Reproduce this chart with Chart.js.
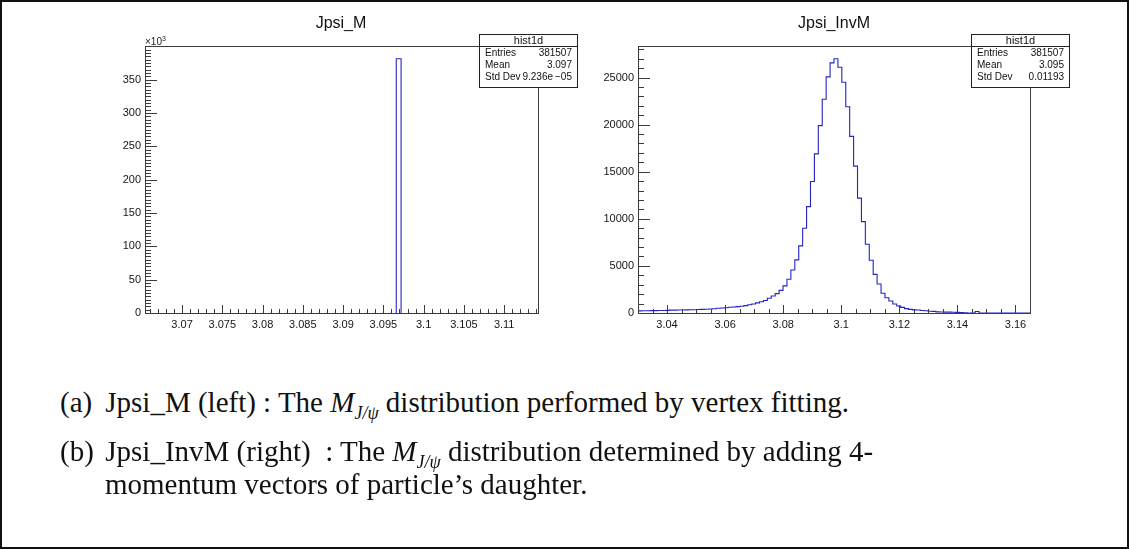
<!DOCTYPE html>
<html>
<head>
<meta charset="utf-8">
<script src="https://cdn.jsdelivr.net/npm/chart.js@4/dist/chart.umd.min.js"></script>
<style>
  html, body { margin: 0; padding: 0; background: #fff; }
  #page { position: relative; width: 1129px; height: 549px; overflow: hidden; background: #fff; }
  #border { position: absolute; left: 0; top: 0; width: 1129px; height: 549px; box-sizing: border-box; border: 2px solid #111; }
  canvas { position: absolute; top: 0; }
  .title { position: absolute; top: 14px; font: 16px "Liberation Sans", Arial, sans-serif; color: #111; transform: translateX(-50%); white-space: nowrap; }
  .exp { position: absolute; left: 145px; top: 35px; font: 10px "Liberation Sans", Arial, sans-serif; color: #222; }
  .exp sup { font-size: 7px; vertical-align: 4px; }
  .stats { position: absolute; top: 34px; width: 99px; height: 54px; box-sizing: border-box; border: 1px solid #222; background: #fff; font: 10px "Liberation Sans", Arial, sans-serif; color: #111; z-index: 2; }
  .stats .hd { height: 10px; line-height: 10px; text-align: center; font-size: 11px; border-bottom: 1px solid #222; padding-bottom: 1px; }
  .stats .row { display: flex; justify-content: space-between; padding: 0 5px 0 5px; height: 12px; line-height: 12px; }
  .cap { position: absolute; left: 60px; font: 29px "Liberation Serif", "Times New Roman", serif; color: #111; white-space: nowrap; line-height: 33px; }
  .cap .lbl { display: inline-block; width: 38px; }
  .cap sub { font-size: 18px; vertical-align: -7px; }
</style>
</head>
<body>
<div id="page">
  <canvas id="massChart" width="470" height="340" style="left:90px"></canvas>
  <canvas id="invChart" width="470" height="340" style="left:580px"></canvas>

  <div class="title" style="left:341px">Jpsi_M</div>
  <div class="title" style="left:834px">Jpsi_InvM</div>
  <div class="exp">×10<sup>3</sup></div>

  <div class="stats" style="left:479px">
    <div class="hd">hist1d</div>
    <div class="row"><span>Entries</span><span>381507</span></div>
    <div class="row"><span>Mean</span><span>3.097</span></div>
    <div class="row"><span>Std Dev</span><span>9.236e&thinsp;−05</span></div>
  </div>
  <div class="stats" style="left:971px">
    <div class="hd">hist1d</div>
    <div class="row"><span>Entries</span><span>381507</span></div>
    <div class="row"><span>Mean</span><span>3.095</span></div>
    <div class="row"><span>Std Dev</span><span>0.01193</span></div>
  </div>

  <div class="cap" style="top:386px"><span class="lbl">(a)</span> Jpsi_M (left) : The <i>M</i><sub><i>J/ψ</i></sub> distribution performed by vertex fitting.</div>
  <div class="cap" style="top:435px"><span class="lbl">(b)</span> Jpsi_InvM (right)&nbsp; : The <i>M</i><sub><i>J/ψ</i></sub> distribution determined by adding 4-</div>
  <div class="cap" style="top:468px; left:105px">momentum vectors of particle’s daughter.</div>

  <div id="border"></div>
</div>

<script>
// Jpsi_M: vertex-fitted mass, everything lands in one bin
const mRange = [3.0654, 3.1142];
const mEdges = [3.0966, 3.0972];
const mCounts = [381507];
const mYMax = 400583;
const mXTicks = [3.07, 3.075, 3.08, 3.085, 3.09, 3.095, 3.1, 3.105, 3.11];
const mXLabels = ['3.07', '3.075', '3.08', '3.085', '3.09', '3.095', '3.1', '3.105', '3.11'];
const mYTicks = [0, 50000, 100000, 150000, 200000, 250000, 300000, 350000];
const mYLabels = ['0', '50', '100', '150', '200', '250', '300', '350'];

// Jpsi_InvM: invariant mass from the daughters' 4-momenta, 100 bins
const invRange = [3.03, 3.165];
const invBinWidth = 0.00135;
const invCounts = [
  230, 240, 245, 250, 255, 262, 270, 282, 300, 308,
  315, 322, 332, 342, 352, 372, 388, 400, 422, 458,
  498, 530, 562, 610, 642, 680, 722, 778, 880, 962,
  1080, 1200, 1330, 1560, 1800, 2060, 2400, 2880, 3590, 4570,
  5640, 7130, 9000, 11300, 13970, 16900, 19900, 22700, 25070, 26560,
  27000, 26100, 24500, 21900, 18750, 15600, 12200, 9700, 7300, 5600,
  4100, 3080, 2100, 1620, 1270, 960, 740, 600, 460, 390,
  335, 315, 262, 245, 185, 175, 120, 108, 96, 88,
  72, 64, 45, 30, 0, 0, 160, 0, 0, 0,
  0, 0, 0, 0, 0, 0, 0, 0, 0, 0
];
const invYMax = 28350;
const invXTicks = [3.04, 3.06, 3.08, 3.1, 3.12, 3.14, 3.16];
const invXLabels = ['3.04', '3.06', '3.08', '3.1', '3.12', '3.14', '3.16'];
const invYTicks = [0, 5000, 10000, 15000, 20000, 25000];
const invYLabels = ['0', '5000', '10000', '15000', '20000', '25000'];

const lineBlue = '#2424c4';
const axisGrey = '#3c3c3c';

Chart.defaults.font.family = '"Liberation Sans", Arial, sans-serif';
Chart.defaults.font.size = 11;
Chart.defaults.color = '#151515';

// histogram outline as a stepped line: up at the first edge, down at the last
function stepPoints(edges, counts) {
  const pts = [{ x: edges[0], y: 0 }];
  counts.forEach((c, i) => pts.push({ x: edges[i], y: c }));
  pts.push({ x: edges[edges.length - 1], y: 0 });
  return pts;
}

function minorTicks(lo, hi, step) {
  const out = [];
  for (let v = Math.ceil(lo / step - 1e-6) * step; v <= hi + 1e-9; v += step) out.push(v);
  return out;
}

// ROOT style frame with ticks pointing inwards
const rootFrame = {
  id: 'rootFrame',
  afterDatasetsDraw(chart, args, opts) {
    const { ctx, chartArea: a, scales: { x, y } } = chart;
    ctx.save();
    ctx.strokeStyle = axisGrey;
    ctx.lineWidth = 1;
    ctx.beginPath();
    const xLen = opts.xLen, yLen = opts.yLen;
    opts.xMinor.forEach(v => {
      const px = Math.round(x.getPixelForValue(v)) + 0.5;
      ctx.moveTo(px, a.bottom); ctx.lineTo(px, a.bottom - xLen / 2);
    });
    opts.xMajor.forEach(v => {
      const px = Math.round(x.getPixelForValue(v)) + 0.5;
      ctx.moveTo(px, a.bottom); ctx.lineTo(px, a.bottom - xLen);
    });
    opts.yMinor.forEach(v => {
      const py = Math.round(y.getPixelForValue(v)) + 0.5;
      ctx.moveTo(a.left, py); ctx.lineTo(a.left + yLen / 2, py);
    });
    opts.yMajor.forEach(v => {
      const py = Math.round(y.getPixelForValue(v)) + 0.5;
      ctx.moveTo(a.left, py); ctx.lineTo(a.left + yLen, py);
    });
    ctx.stroke();
    ctx.strokeRect(Math.round(a.left) + 0.5, Math.round(a.top) + 0.5, Math.round(a.width), Math.round(a.height));
    ctx.restore();
  }
};

function histChart(id, cfg) {
  return new Chart(document.getElementById(id), {
    type: 'line',
    data: {
      datasets: [{
        data: stepPoints(cfg.edges, cfg.counts),
        stepped: true,
        borderColor: lineBlue,
        borderWidth: 1.1,
        pointRadius: 0,
        fill: false
      }]
    },
    options: {
      responsive: false,
      animation: false,
      events: [],
      layout: { padding: { top: 46, right: cfg.padRight, left: 0, bottom: 0 } },
      plugins: {
        legend: { display: false },
        tooltip: { enabled: false },
        rootFrame: {
          xMajor: cfg.xTicks, xMinor: cfg.xMinor,
          yMajor: cfg.yTicks, yMinor: cfg.yMinor,
          xLen: 8, yLen: 12
        }
      },
      scales: {
        x: {
          type: 'linear',
          min: cfg.xRange[0],
          max: cfg.xRange[1],
          grid: { display: false, drawTicks: false },
          border: { display: false },
          afterBuildTicks: s => { s.ticks = cfg.xTicks.map(v => ({ value: v })); },
          afterFit: s => { s.height = 27; },
          ticks: { padding: 5, maxRotation: 0, autoSkip: false, callback: (v, i) => cfg.xLabels[i] }
        },
        y: {
          type: 'linear',
          min: 0,
          max: cfg.yMax,
          grid: { display: false, drawTicks: false },
          border: { display: false },
          afterBuildTicks: s => { s.ticks = cfg.yTicks.map(v => ({ value: v })); },
          afterFit: s => { s.width = cfg.yWidth; },
          ticks: { padding: 4, autoSkip: false, callback: (v, i) => cfg.yLabels[i] }
        }
      }
    },
    plugins: [rootFrame]
  });
}

const invEdges = invCounts.map((c, i) => invRange[0] + i * invBinWidth);
invEdges.push(invRange[0] + invCounts.length * invBinWidth);

histChart('massChart', {
  edges: mEdges, counts: mCounts, xRange: mRange, yMax: mYMax,
  xTicks: mXTicks, xLabels: mXLabels, yTicks: mYTicks, yLabels: mYLabels,
  xMinor: minorTicks(mRange[0], mRange[1], 0.001),
  yMinor: minorTicks(0, mYMax, 5000),
  yWidth: 55, padRight: 22
});

histChart('invChart', {
  edges: invEdges, counts: invCounts, xRange: invRange, yMax: invYMax,
  xTicks: invXTicks, xLabels: invXLabels, yTicks: invYTicks, yLabels: invYLabels,
  xMinor: minorTicks(invRange[0], invRange[1], 0.005),
  yMinor: minorTicks(0, invYMax, 1000),
  yWidth: 58, padRight: 20
});
</script>
</body>
</html>
